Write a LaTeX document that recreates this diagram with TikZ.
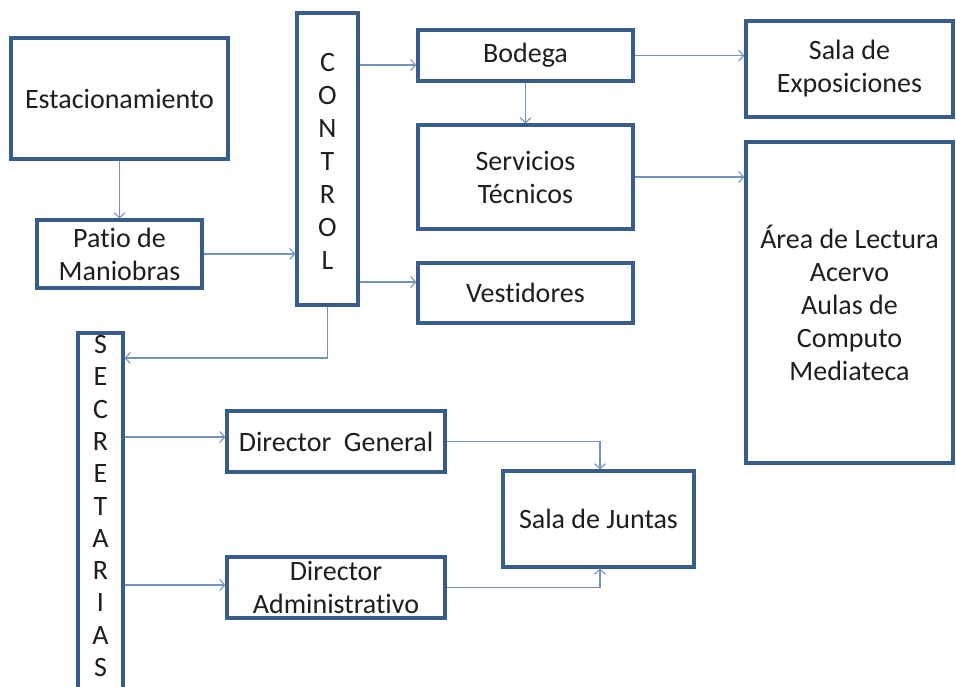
\documentclass[tikz,border=0pt]{standalone}
\usepackage{fontspec}
\setmainfont{Carlito}[Ligatures=NoCommon]
\usetikzlibrary{arrows.meta}
\definecolor{boxline}{HTML}{385D8A}
\definecolor{connline}{HTML}{7393BC}
\definecolor{txt}{HTML}{1E1E1E}
\tikzset{
  box/.style={draw=boxline, line width=3.2pt, fill=white, rectangle, inner sep=0pt,
    align=center, text=txt, font=\fontsize{28}{33}\selectfont},
  lbl/.style={inner sep=0pt, align=center, text=txt, font=\fontsize{28}{33}\selectfont},
  conn/.style={draw=connline, line width=1.1pt, -{Straight Barb[length=5pt,width=11pt,line width=1.1pt]}},
}
\begin{document}
\begin{tikzpicture}[x=1pt,y=-1pt]
\useasboundingbox (0,0) rectangle (956,686);
\clip (0,0) rectangle (956,686);
\fill[white] (0,0) rectangle (956,686);

\node[box, minimum width=217, minimum height=121] (est) at (119.5,98.5) {Estacionamiento};
\node[box, minimum width=165, minimum height=68] (patio) at (119.5,254) {Patio de\\Maniobras};
\node[box, minimum width=61, minimum height=292] (ctrl) at (327.5,159) {};
\node[lbl] (ctrltxt) at (327.5,161) {C\\O\\N\\T\\R\\O\\L};
\node[box, minimum width=215, minimum height=51] (bod) at (525.5,55.5) {Bodega};
\node[box, minimum width=215, minimum height=104] (serv) at (525.5,177) {Servicios\\Técnicos};
\node[box, minimum width=215, minimum height=60] (vest) at (525.5,293) {Vestidores};
\node[box, minimum width=207, minimum height=96] (expo) at (849.5,69) {Sala de\\Exposiciones};
\node[box, minimum width=207, minimum height=321] (area) at (849.5,302.5) {Área de Lectura\\Acervo\\Aulas de\\Computo\\Mediateca};
\node[box, minimum width=45, minimum height=367] (secr) at (100.5,516.5) {};
\node[lbl, font=\fontsize{28}{32.3}\selectfont] (secrtxt) at (100.5,506) {S\\E\\C\\R\\E\\T\\A\\R\\I\\A\\S};
\node[box, minimum width=218, minimum height=61] (dg) at (336,441.5) {Director~~General};
\node[box, minimum width=218, minimum height=61] (da) at (336,587.5) {Director\\Administrativo};
\node[box, minimum width=191, minimum height=96] (junta) at (598.5,519) {Sala de Juntas};

\draw[conn] (est.south) -- (patio.north);
\draw[conn] (patio.east) -- (patio.east -| ctrl.west);
\draw[conn] (ctrl.east |- 0,65) -- (bod.west |- 0,65);
\draw[conn] (ctrl.east |- 0,282) -- (vest.west |- 0,282);
\draw[conn] (ctrl.south) |- (secr.east |- 0,358);
\draw[conn] (bod.south) -- (serv.north);
\draw[conn] (bod.east) -- (bod.east -| expo.west);
\draw[conn] (serv.east) -- (serv.east -| area.west);
\draw[conn] (secr.east |- 0,437) -- (dg.west |- 0,437);
\draw[conn] (secr.east |- 0,585) -- (da.west |- 0,585);
\draw[conn] (dg.east) -| ([xshift=1.5pt]junta.north);
\draw[conn] (da.east) -| ([xshift=1.5pt]junta.south);
\end{tikzpicture}
\end{document}
